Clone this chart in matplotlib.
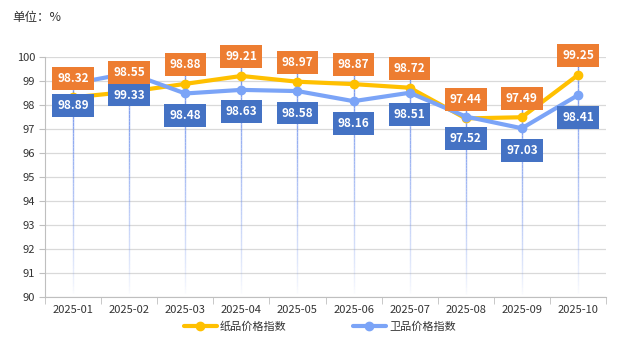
import matplotlib
matplotlib.use("Agg")
import matplotlib.pyplot as plt
import numpy as np
from matplotlib.collections import LineCollection

plt.rcParams['font.family'] = ['Noto Sans CJK SC', 'DejaVu Sans']

months = ["2025-01", "2025-02", "2025-03", "2025-04", "2025-05",
          "2025-06", "2025-07", "2025-08", "2025-09", "2025-10"]
paper = [98.32, 98.55, 98.88, 99.21, 98.97, 98.87, 98.72, 97.44, 97.49, 99.25]
sanitary = [98.89, 99.33, 98.48, 98.63, 98.58, 98.16, 98.51, 97.52, 97.03, 98.41]
y_ticks = [90, 91, 92, 93, 94, 95, 96, 97, 98, 99, 100]

W, H = 618, 348
fig = plt.figure(figsize=(W / 100, H / 100), dpi=100)
ax = fig.add_axes([45 / W, (H - 297) / H, (606 - 45) / W, (297 - 57) / H])

x = np.arange(len(months))
ax.set_xlim(-0.5, len(months) - 0.5)
ax.set_ylim(90, 100)

# grid
ax.set_yticks(y_ticks)
ax.grid(axis='y', color='#d9d9d9', linewidth=0.9)
ax.set_axisbelow(True)
for s in ['top', 'right']:
    ax.spines[s].set_visible(False)
ax.spines['left'].set_color('#bfbfbf')
ax.spines['bottom'].set_color('#bfbfbf')
ax.tick_params(axis='y', length=4, color='#bfbfbf', labelsize=8, labelcolor='#333333', pad=3)
ax.set_xticks(x)
ax.set_xticklabels(months)
ax.tick_params(axis='x', length=0, labelsize=8, labelcolor='#333333', pad=6)
ax.set_xticks(np.arange(-0.5, len(months)), minor=True)
ax.tick_params(axis='x', which='minor', length=5, color='#bfbfbf')

# gradient vertical lines
n = 60
for xi, a in zip(x, paper):
    top = a + 0.6
    ys = np.linspace(top, 90, n + 1)
    segs = [[(xi, ys[i]), (xi, ys[i + 1])] for i in range(n)]
    alphas = np.linspace(1.0, 0.0, n) ** 0.8
    cols = [(0.45, 0.58, 0.93, al) for al in alphas]
    ax.add_collection(LineCollection(segs, colors=cols, linewidths=1.0, zorder=1))

yellow = '#FFC000'
blue = '#7BA4F7'
ax.plot(x, paper, color=yellow, linewidth=3, marker='o', markersize=6,
        zorder=3, label='纸品价格指数', solid_capstyle='round')
ax.plot(x, sanitary, color=blue, linewidth=3, marker='o', markersize=6,
        zorder=3, label='卫品价格指数', solid_capstyle='round')

# data labels
for xi, v in zip(x, paper):
    ax.annotate(f"{v:.2f}", (xi, v), xytext=(0, 13.8), textcoords='offset points',
                ha='center', va='center', color='white', fontsize=8.5, fontweight='bold',
                bbox=dict(boxstyle='square,pad=0.42', fc='#ED7D31', ec='none'), zorder=5)
for xi, v in zip(x, sanitary):
    ax.annotate(f"{v:.2f}", (xi, v), xytext=(0, -15.8), textcoords='offset points',
                ha='center', va='center', color='white', fontsize=8.5, fontweight='bold',
                bbox=dict(boxstyle='square,pad=0.42', fc='#4472C4', ec='none'), zorder=5)

fig.text(12 / W, 1 - 18 / H, "单位：%", fontsize=9, color='#333333', va='center', ha='left')

leg = fig.legend(loc='center', bbox_to_anchor=(320 / W, 1 - 327 / H), ncol=2,
                 frameon=False, fontsize=8, handlelength=2.9, columnspacing=6,
                 handletextpad=0.3, labelcolor='#333333')

fig.savefig("out.png", dpi=100)
